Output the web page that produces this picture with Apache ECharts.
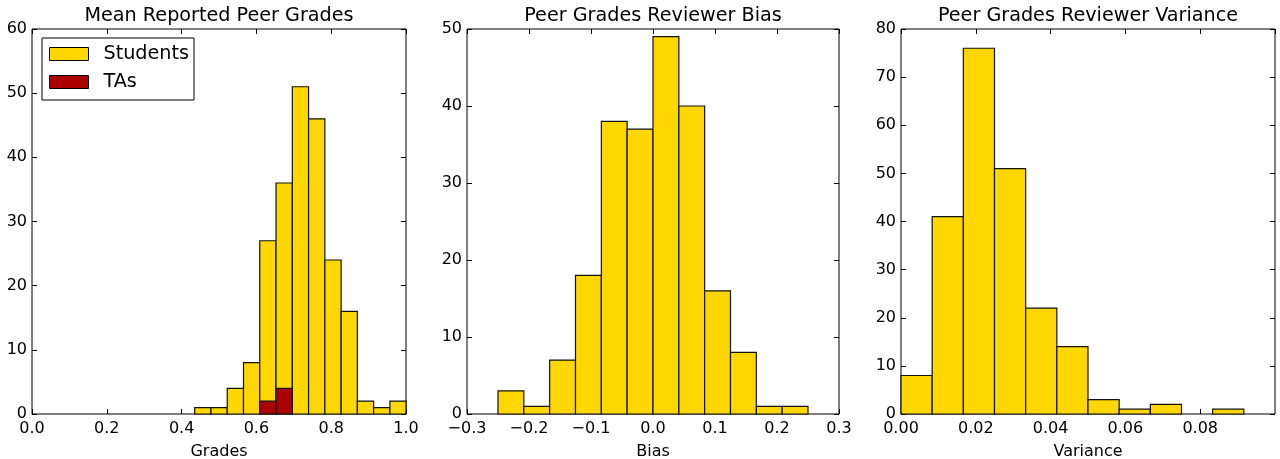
<!DOCTYPE html>
<html>
<head>
<meta charset="utf-8">
<script src="https://cdn.jsdelivr.net/npm/echarts@6/dist/echarts.min.js"></script>
<style>html,body{margin:0;padding:0;background:#fff}#c{width:1280px;height:459px}</style>
</head>
<body>
<div id="c"></div>
<script>
// ---- Data ----
const gradeEdges = [0.435, 0.4785, 0.522, 0.5655, 0.609, 0.6525, 0.696, 0.7395, 0.783, 0.8265, 0.87, 0.9135, 0.957, 1.0];
const studentCounts = [1, 1, 4, 8, 27, 36, 51, 46, 24, 16, 2, 1, 2];
const taCounts = [0, 0, 0, 0, 2, 4, 0, 0, 0, 0, 0, 0, 0];

const biasEdges = [-0.25, -0.2083, -0.1667, -0.125, -0.0833, -0.0417, 0.0, 0.0417, 0.0833, 0.125, 0.1667, 0.2083, 0.25];
const biasCounts = [3, 1, 7, 18, 38, 37, 49, 40, 16, 8, 1, 1];

const varEdges = [0.0, 0.00833, 0.01667, 0.025, 0.03333, 0.04167, 0.05, 0.05833, 0.06667, 0.075, 0.08333, 0.09167];
const varCounts = [8, 41, 76, 51, 22, 14, 3, 1, 2, 0, 1];

const titles = ['Mean Reported Peer Grades', 'Peer Grades Reviewer Bias', 'Peer Grades Reviewer Variance'];
const xNames = ['Grades', 'Bias', 'Variance'];
const xRanges = [[0, 1, 0.2, 1], [-0.3, 0.3, 0.1, 1], [0, 0.1, 0.02, 2]];
const yRanges = [[0, 60, 10], [0, 50, 10], [0, 80, 10]];

const YELLOW = '#FFD700';
const RED = '#AA0000';
const FONT = 'DejaVu Sans';

function binsOf(edges, counts) {
  return counts.map((c, i) => [edges[i], edges[i + 1], c]);
}

const grids = [
  { left: 32, top: 29, width: 374, height: 385 },
  { left: 467, top: 29, width: 372, height: 385 },
  { left: 901, top: 29, width: 374, height: 385 }
];

const fmt = (d) => (v) => v.toFixed(d).replace('-', '\u2212');

const tick = { show: true, inside: true, length: 5, lineStyle: { color: '#000', width: 1 } };
const xAxis = [], yAxis = [];
grids.forEach((g, i) => {
  const [mn, mx, iv, dec] = xRanges[i];
  const [ymn, ymx, yiv] = yRanges[i];
  const common = {
    type: 'value', gridIndex: i, min: mn, max: mx, interval: iv,
    axisLine: { show: false, onZero: false }, splitLine: { show: false },
    axisTick: tick
  };
  xAxis.push(Object.assign({}, common, {
    position: 'bottom',
    name: xNames[i], nameLocation: 'middle', nameGap: 30,
    nameTextStyle: { fontFamily: FONT, fontSize: 16, color: '#000' },
    axisLabel: { fontFamily: FONT, fontSize: 16, color: '#000', margin: 7, formatter: fmt(dec), showMaxLabel: i !== 2 }
  }));
  xAxis.push(Object.assign({}, common, { position: 'top', axisLabel: { show: false } }));
  const ycommon = {
    type: 'value', gridIndex: i, min: ymn, max: ymx, interval: yiv,
    axisLine: { show: false, onZero: false }, splitLine: { show: false },
    axisTick: tick
  };
  yAxis.push(Object.assign({}, ycommon, {
    position: 'left',
    axisLabel: { fontFamily: FONT, fontSize: 16, color: '#000', margin: 5 }
  }));
  yAxis.push(Object.assign({}, ycommon, { position: 'right', axisLabel: { show: false } }));
});

function histSeries(name, idx, data, color, z) {
  return {
    name: name, type: 'custom', xAxisIndex: idx * 2, yAxisIndex: idx * 2, z: z,
    itemStyle: { color: color },
    encode: { x: [0, 1], y: 2 },
    data: data,
    renderItem: function (params, api) {
      const c = api.value(2);
      if (!c) return null;
      const p0 = api.coord([api.value(0), c]);
      const p1 = api.coord([api.value(1), 0]);
      return {
        type: 'rect',
        shape: { x: p0[0], y: p0[1], width: p1[0] - p0[0], height: p1[1] - p0[1] },
        style: { fill: color, stroke: '#111', lineWidth: 1.2 }
      };
    }
  };
}

const graphic = titles.map((t, i) => ({
  type: 'text', x: grids[i].left + grids[i].width / 2, y: 7,
  style: { text: t, font: '19.2px "DejaVu Sans"', fill: '#000', align: 'center', verticalAlign: 'top' }
}));

const chart = echarts.init(document.getElementById('c'), null, { renderer: 'canvas' });
chart.setOption({
  animation: false,
  backgroundColor: '#fff',
  grid: grids.map(g => Object.assign({ show: true, borderColor: '#000', borderWidth: 1, backgroundColor: 'transparent', containLabel: false, outerBoundsMode: 'none' }, g)),
  xAxis: xAxis,
  yAxis: yAxis,
  graphic: graphic,
  legend: {
    orient: 'vertical', left: 42, top: 38,
    selectedMode: false,
    borderColor: '#000', borderWidth: 1, borderRadius: 0,
    padding: [6, 5, 8, 7],
    itemWidth: 39, itemHeight: 13, itemGap: 8,
    icon: 'rect',
    textStyle: { fontFamily: FONT, fontSize: 19.2, color: '#000', lineHeight: 20, padding: [0, 0, 0, 10] },
    data: [
      { name: 'Students', itemStyle: { color: YELLOW, borderColor: '#000', borderWidth: 1 } },
      { name: 'TAs', itemStyle: { color: RED, borderColor: '#000', borderWidth: 1 } }
    ]
  },
  series: [
    histSeries('Students', 0, binsOf(gradeEdges, studentCounts), YELLOW, 2),
    histSeries('TAs', 0, binsOf(gradeEdges, taCounts), RED, 3),
    histSeries('Bias', 1, binsOf(biasEdges, biasCounts), YELLOW, 2),
    histSeries('Variance', 2, binsOf(varEdges, varCounts), YELLOW, 2)
  ]
});
</script>
</body>
</html>
